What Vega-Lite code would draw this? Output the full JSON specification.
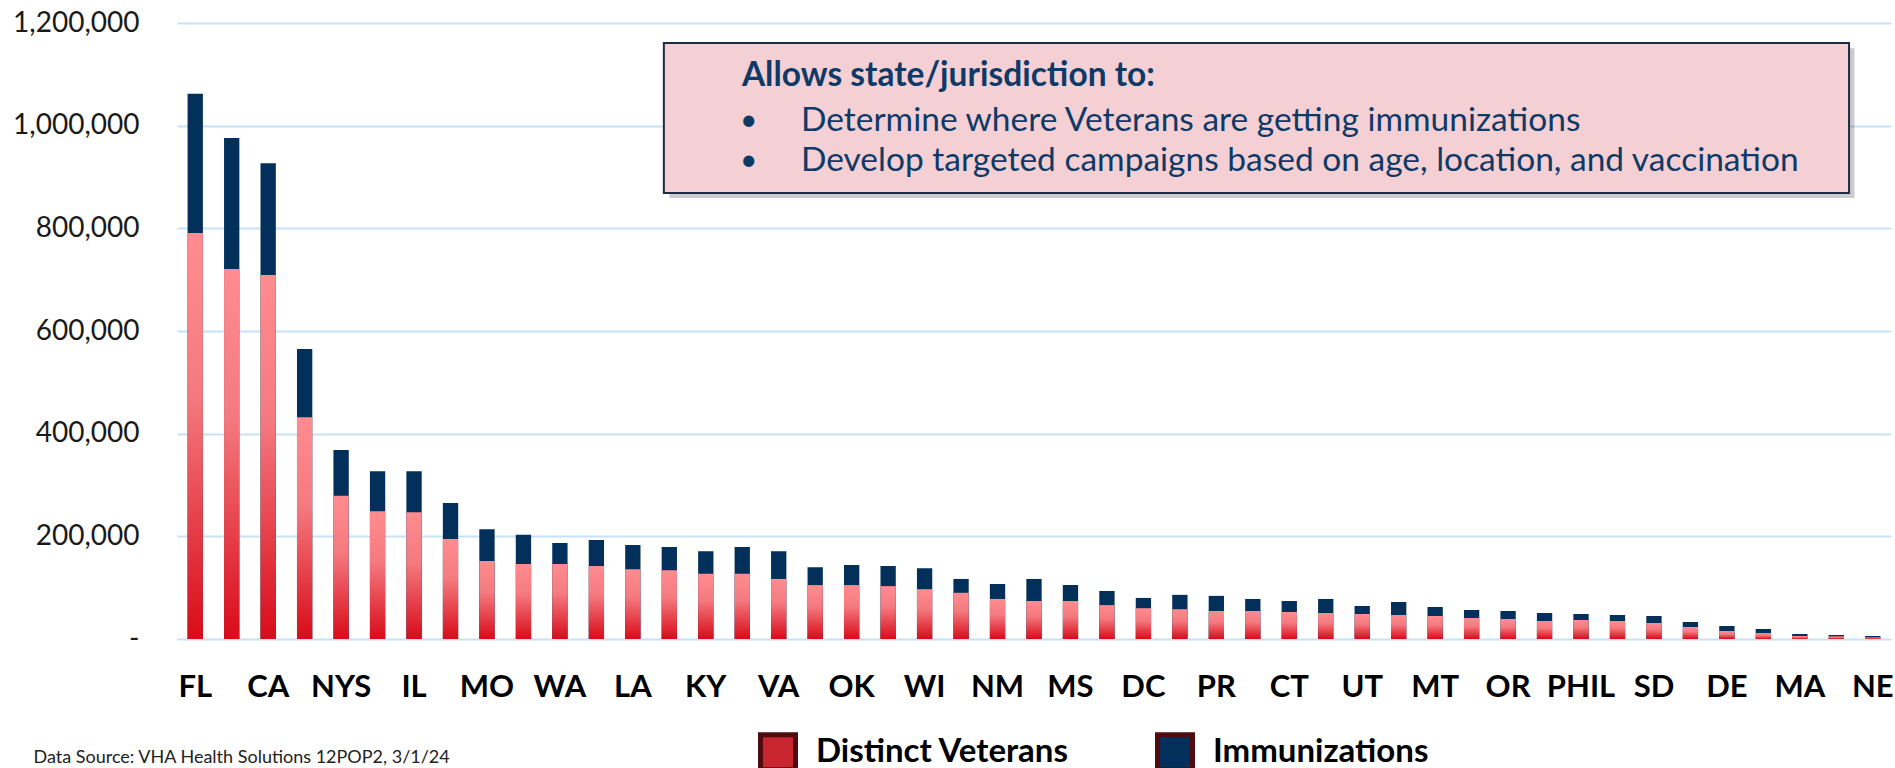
{
  "$schema": "https://vega.github.io/schema/vega-lite/v6.json",
  "width": 1714,
  "height": 616,
  "autosize": "none",
  "padding": {"left": 177, "top": 23, "right": 4, "bottom": 129},
  "background": "#ffffff",
  "config": {"view": {"stroke": null}, "font": "Lato"},
  "layer": [
    {
      "data": {"values": [
        {"state": "FL", "immunizations": 1062000, "veterans": 791000},
        {"state": "TX", "immunizations": 976000, "veterans": 721000},
        {"state": "CA", "immunizations": 927000, "veterans": 709000},
        {"state": "NC", "immunizations": 565000, "veterans": 432000},
        {"state": "NYS", "immunizations": 368000, "veterans": 279000},
        {"state": "PA", "immunizations": 327000, "veterans": 249000},
        {"state": "IL", "immunizations": 327000, "veterans": 247000},
        {"state": "OH", "immunizations": 265000, "veterans": 195000},
        {"state": "MO", "immunizations": 214000, "veterans": 152000},
        {"state": "AL", "immunizations": 203000, "veterans": 146000},
        {"state": "WA", "immunizations": 187000, "veterans": 146000},
        {"state": "TN", "immunizations": 193000, "veterans": 142000},
        {"state": "LA", "immunizations": 183000, "veterans": 136000},
        {"state": "SC", "immunizations": 179000, "veterans": 134000},
        {"state": "KY", "immunizations": 171000, "veterans": 127000},
        {"state": "MI", "immunizations": 179000, "veterans": 127000},
        {"state": "VA", "immunizations": 171000, "veterans": 117000},
        {"state": "IN", "immunizations": 140000, "veterans": 105000},
        {"state": "OK", "immunizations": 144000, "veterans": 105000},
        {"state": "AR", "immunizations": 142000, "veterans": 103000},
        {"state": "WI", "immunizations": 138000, "veterans": 97000},
        {"state": "NV", "immunizations": 117000, "veterans": 90000},
        {"state": "NM", "immunizations": 107000, "veterans": 78000},
        {"state": "MD", "immunizations": 117000, "veterans": 74000},
        {"state": "MS", "immunizations": 105000, "veterans": 74000},
        {"state": "IA", "immunizations": 93500, "veterans": 66000},
        {"state": "DC", "immunizations": 80000, "veterans": 60000},
        {"state": "KS", "immunizations": 86000, "veterans": 58000},
        {"state": "PR", "immunizations": 84000, "veterans": 54500},
        {"state": "NJ", "immunizations": 78000, "veterans": 54500},
        {"state": "CT", "immunizations": 74000, "veterans": 52600},
        {"state": "WV", "immunizations": 78000, "veterans": 50600},
        {"state": "UT", "immunizations": 64300, "veterans": 48700},
        {"state": "ID", "immunizations": 72100, "veterans": 46800},
        {"state": "MT", "immunizations": 62300, "veterans": 44800},
        {"state": "MN", "immunizations": 56500, "veterans": 40900},
        {"state": "OR", "immunizations": 54500, "veterans": 39000},
        {"state": "NYC", "immunizations": 50600, "veterans": 35100},
        {"state": "PHIL", "immunizations": 48700, "veterans": 37000},
        {"state": "ME", "immunizations": 46800, "veterans": 35100},
        {"state": "SD", "immunizations": 44800, "veterans": 31200},
        {"state": "HI", "immunizations": 33100, "veterans": 23400},
        {"state": "DE", "immunizations": 25300, "veterans": 15600},
        {"state": "RI", "immunizations": 19500, "veterans": 11700},
        {"state": "MA", "immunizations": 9700, "veterans": 5800},
        {"state": "VT", "immunizations": 7800, "veterans": 5200},
        {"state": "NE", "immunizations": 5800, "veterans": 3200}
      ]},
      "layer": [
        {
          "mark": {"type": "bar"},
          "encoding": {
            "x": {
              "field": "state", "type": "nominal", "sort": null,
              "scale": {"paddingInner": 0.58, "paddingOuter": 0.29},
              "axis": {
                "labelExpr": "indexof(['FL','CA','NYS','IL','MO','WA','LA','KY','VA','OK','WI','NM','MS','DC','PR','CT','UT','MT','OR','PHIL','SD','DE','MA','NE'], datum.value) >= 0 ? datum.value : ''",
                "labelAngle": 0, "ticks": false, "domain": false, "grid": false,
                "labelFont": "Lato", "labelFontSize": 31, "labelFontWeight": "bold", "labelColor": "#000000",
                "labelPadding": 48, "labelBaseline": "middle",
                "title": "Data Source: VHA Health Solutions 12POP2, 3/1/24",
                "titleFont": "Lato", "titleFontSize": 18, "titleFontWeight": "normal", "titleColor": "#222222",
                "titleAnchor": "start", "titleAlign": "left", "titleBaseline": "middle",
                "titleX": -144, "titleY": 118
              }
            },
            "y": {
              "field": "immunizations", "type": "quantitative",
              "scale": {"domain": [0, 1200000], "nice": false},
              "axis": {
                "title": null, "values": [0, 200000, 400000, 600000, 800000, 1000000, 1200000],
                "labelExpr": "datum.value == 0 ? '-  ' : format(datum.value, ',')",
                "ticks": false, "domain": false,
                "grid": true, "gridColor": "#C7E1F8", "gridWidth": 2,
                "labelFont": "Lato", "labelFontSize": 28, "labelColor": "#1a1a1a", "labelPadding": 38
              }
            },
            "color": {
              "datum": "Immunizations",
              "scale": {"domain": ["Distinct Veterans", "Immunizations"], "range": ["#C8262F", "#03305A"]},
              "legend": {
                "title": null, "orient": "none", "legendX": 581, "legendY": 709,
                "direction": "horizontal", "symbolType": "square", "symbolSize": 1225,
                "symbolStrokeColor": "#4F0B10", "symbolStrokeWidth": 5, "symbolOpacity": 1,
                "labelFont": "Lato", "labelFontSize": 33, "labelFontWeight": "bold", "labelColor": "#000000",
                "labelOffset": 18, "columnPadding": 77, "padding": 0, "labelLimit": 500
              }
            }
          }
        },
        {
          "mark": {
            "type": "bar",
            "color": {
              "gradient": "linear", "x1": 0, "y1": 0, "x2": 0, "y2": 1,
              "stops": [
                {"offset": 0, "color": "#FF8C90"},
                {"offset": 0.4, "color": "#F47A7F"},
                {"offset": 1, "color": "#D80B19"}
              ]
            }
          },
          "encoding": {
            "x": {"field": "state", "type": "nominal", "sort": null},
            "y": {
              "field": "veterans", "type": "quantitative",
              "axis": {
                "title": null, "values": [0, 200000, 400000, 600000, 800000, 1000000, 1200000],
                "labelExpr": "datum.value == 0 ? '-  ' : format(datum.value, ',')",
                "ticks": false, "domain": false,
                "grid": true, "gridColor": "#C7E1F8", "gridWidth": 2,
                "labelFont": "Lato", "labelFontSize": 28, "labelColor": "#1a1a1a", "labelPadding": 38
              }
            }
          }
        }
      ]
    },
    {
      "layer": [
        {
          "data": {"values": [{"note": "shadow"}]},
          "mark": {"type": "rect", "color": "#000000", "opacity": 0.2},
          "encoding": {
            "x": {"datum": 13.5, "type": "quantitative", "scale": {"domain": [0, 47], "nice": false, "zero": false}, "axis": null},
            "x2": {"datum": 46.0},
            "y": {"datum": 1151000, "type": "quantitative", "axis": null},
            "y2": {"datum": 859000}
          }
        },
        {
          "data": {"values": [{"note": "box"}]},
          "mark": {"type": "rect", "fill": "#F4D0D4", "stroke": "#1D2B44", "strokeWidth": 2},
          "encoding": {
            "x": {"datum": 13.35, "type": "quantitative", "axis": null},
            "x2": {"datum": 45.85},
            "y": {"datum": 1161000, "type": "quantitative", "axis": null},
            "y2": {"datum": 869000}
          }
        },
        {
          "data": {"values": [{"line": "Allows state/jurisdiction to:"}]},
          "mark": {"type": "text", "align": "left", "baseline": "middle", "font": "Lato", "fontSize": 33.5, "fontWeight": "bold", "color": "#0E3A68"},
          "encoding": {
            "x": {"datum": 15.49, "type": "quantitative", "axis": null},
            "y": {"datum": 1097000, "type": "quantitative", "axis": null},
            "text": {"field": "line"}
          }
        },
        {
          "data": {"values": [{"bullet": "•", "line": "Determine where Veterans are getting immunizations"}]},
          "layer": [
            {
              "mark": {"type": "text", "align": "center", "baseline": "middle", "font": "Lato", "fontSize": 30, "color": "#0E3A68"},
              "encoding": {
                "x": {"datum": 15.68, "type": "quantitative", "axis": null},
                "y": {"datum": 1009000, "type": "quantitative", "axis": null},
                "text": {"field": "bullet"}
              }
            },
            {
              "mark": {"type": "text", "align": "left", "baseline": "middle", "font": "Lato", "fontSize": 33.5, "color": "#0E3A68"},
              "encoding": {
                "x": {"datum": 17.11, "type": "quantitative", "axis": null},
                "y": {"datum": 1009000, "type": "quantitative", "axis": null},
                "text": {"field": "line"}
              }
            }
          ]
        },
        {
          "data": {"values": [{"bullet": "•", "line": "Develop targeted campaigns based on age, location, and vaccination"}]},
          "layer": [
            {
              "mark": {"type": "text", "align": "center", "baseline": "middle", "font": "Lato", "fontSize": 30, "color": "#0E3A68"},
              "encoding": {
                "x": {"datum": 15.68, "type": "quantitative", "axis": null},
                "y": {"datum": 931000, "type": "quantitative", "axis": null},
                "text": {"field": "bullet"}
              }
            },
            {
              "mark": {"type": "text", "align": "left", "baseline": "middle", "font": "Lato", "fontSize": 33.5, "color": "#0E3A68"},
              "encoding": {
                "x": {"datum": 17.11, "type": "quantitative", "axis": null},
                "y": {"datum": 931000, "type": "quantitative", "axis": null},
                "text": {"field": "line"}
              }
            }
          ]
        }
      ]
    }
  ],
  "resolve": {"scale": {"x": "independent"}, "axis": {"y": "independent"}}
}
